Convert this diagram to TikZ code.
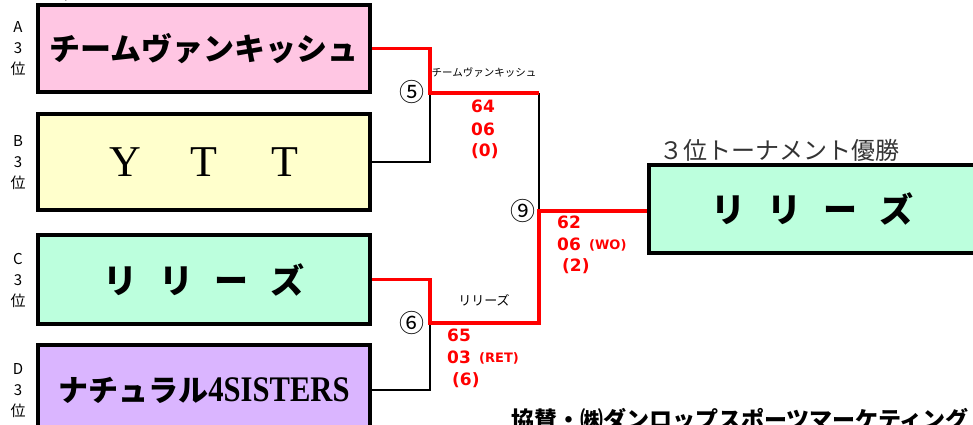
\documentclass[tikz,border=0pt]{standalone}
\usepackage{fontspec}
\setmainfont{Liberation Sans}
\newfontfamily\jp{Noto Sans CJK JP}
\newfontfamily\serifjp{Liberation Serif}
\newfontfamily\scorefont{DejaVu Sans}
\definecolor{pinkfill}{HTML}{FFC6E3}
\definecolor{yellowfill}{HTML}{FFFFCC}
\definecolor{mintfill}{HTML}{BCFFDD}
\definecolor{purplefill}{HTML}{DAB5FF}
\definecolor{redline}{HTML}{FF0000}
\definecolor{titlegray}{HTML}{333333}
\begin{document}
\begin{tikzpicture}[x=1pt,y=-1pt,
  teambox/.style={draw=black,line width=4pt,rectangle,inner sep=0pt,align=center},
  winline/.style={draw=redline,line width=3.5pt,line join=miter},
  loseline/.style={draw=black,line width=1.8pt,line join=miter},
  sidelabel/.style={font=\fontsize{15}{21}\selectfont\jp,align=center,inner sep=0pt},
  circnum/.style={font=\fontsize{25}{25}\selectfont\jp,inner sep=0pt},
  score/.style={font=\fontsize{17}{20}\selectfont\scorefont\bfseries,text=redline,inner sep=0pt,anchor=west},
  smallscore/.style={font=\fontsize{13}{14}\selectfont\scorefont\bfseries,text=redline,inner sep=0pt},
  smallname/.style={font=\fontsize{10.5}{13}\selectfont\jp,inner sep=0pt}]
\useasboundingbox (0,0) rectangle (973,425);
\clip (0,0) rectangle (973,425);

% cut-off heading at top
\node[anchor=base west,inner sep=0pt,font=\fontsize{18}{18}\selectfont\jp] (toptitle) at (44,0) {３位トーナメント};

% team boxes
\node[teambox,fill=pinkfill,minimum width=332pt,minimum height=87pt] (A) at (204,48.5)
  {\fontsize{31}{31}\selectfont\jp\bfseries チームヴァンキッシュ};
\node[teambox,fill=yellowfill,minimum width=332pt,minimum height=96pt] (B) at (204,162)
  {\fontsize{44}{44}\selectfont\serifjp Y\hspace{50pt}T\hspace{54pt}T};
\node[teambox,fill=mintfill,minimum width=332pt,minimum height=89pt] (C) at (204,279.5)
  {\fontsize{34}{34}\selectfont\jp\bfseries リ\hspace{22pt}リ\hspace{22pt}ー\hspace{22pt}ズ};
\node[teambox,fill=purplefill,minimum width=332pt,minimum height=90pt] (D) at (204,390)
  {\fontsize{30}{30}\selectfont\jp\bfseries ナチュラル{\serifjp\fontsize{36}{36}\selectfont\scalebox{0.85}[1]{4SISTERS}}};
\node[teambox,fill=mintfill,minimum width=326pt,minimum height=88pt] (W) at (812,209)
  {\fontsize{34}{34}\selectfont\jp\bfseries リ\hspace{22pt}リ\hspace{22pt}ー\hspace{22pt}ズ};

% side labels
\node[sidelabel] (la) at (18,49) {A\\3\\位};
\node[sidelabel] (lb) at (18,163) {B\\3\\位};
\node[sidelabel] (lc) at (18,280) {C\\3\\位};
\node[sidelabel] (ld) at (18,391) {D\\3\\位};

% winner title
\node[anchor=west,inner sep=0pt,text=titlegray,font=\fontsize{24}{24}\selectfont\jp] (wt) at (659,150) {３位トーナメント優勝};

% joints
\coordinate (j5) at (430,93);
\coordinate (k5) at (539,93);
\coordinate (j6) at (430,323);
\coordinate (k6) at (539,323);
\coordinate (k9) at (539,211);

% losing (black) connectors
\draw[loseline] (B.east) -| (j5);
\draw[loseline] (D.east) -| (j6);
\draw[loseline] (k5) -- (k9);

% winning (red) connectors
\draw[winline] (A.east) -| (j5) -- (k5);
\draw[winline] (C.east) -| (j6) -- (k6) -- (k9) -- (k9 -| W.west);

% match numbers
\node[circnum] (n5) at (412,92) {⑤};
\node[circnum] (n6) at (412,323) {⑥};
\node[circnum] (n9) at (523,211) {⑨};

% winner names on lines
\node[smallname] (w5) at (484,72) {チームヴァンキッシュ};
\node[smallname,font=\fontsize{13}{14}\selectfont\jp] (w6) at (484,300) {リリーズ};

% scores
\node[score] (s5a) at (471,106) {64};
\node[score] (s5b) at (471,129) {06};
\node[score] (s5c) at (471,151) {(0)};

\node[score] (s9a) at (557,222) {62};
\node[score] (s9b) at (557,244) {06};
\node[smallscore,anchor=west] (s9w) at (589,245) {(WO)};
\node[score] (s9c) at (562,266) {(2)};

\node[score] (s6a) at (447,335) {65};
\node[score] (s6b) at (447,357) {03};
\node[smallscore,anchor=west] (s6r) at (479,358) {(RET)};
\node[score] (s6c) at (452,380) {(6)};

% sponsor
\node[anchor=west,inner sep=0pt,font=\fontsize{23}{23}\selectfont\jp\bfseries] (sp) at (511,420) {協賛・㈱ダンロップスポーツマーケティング};
\end{tikzpicture}
\end{document}
